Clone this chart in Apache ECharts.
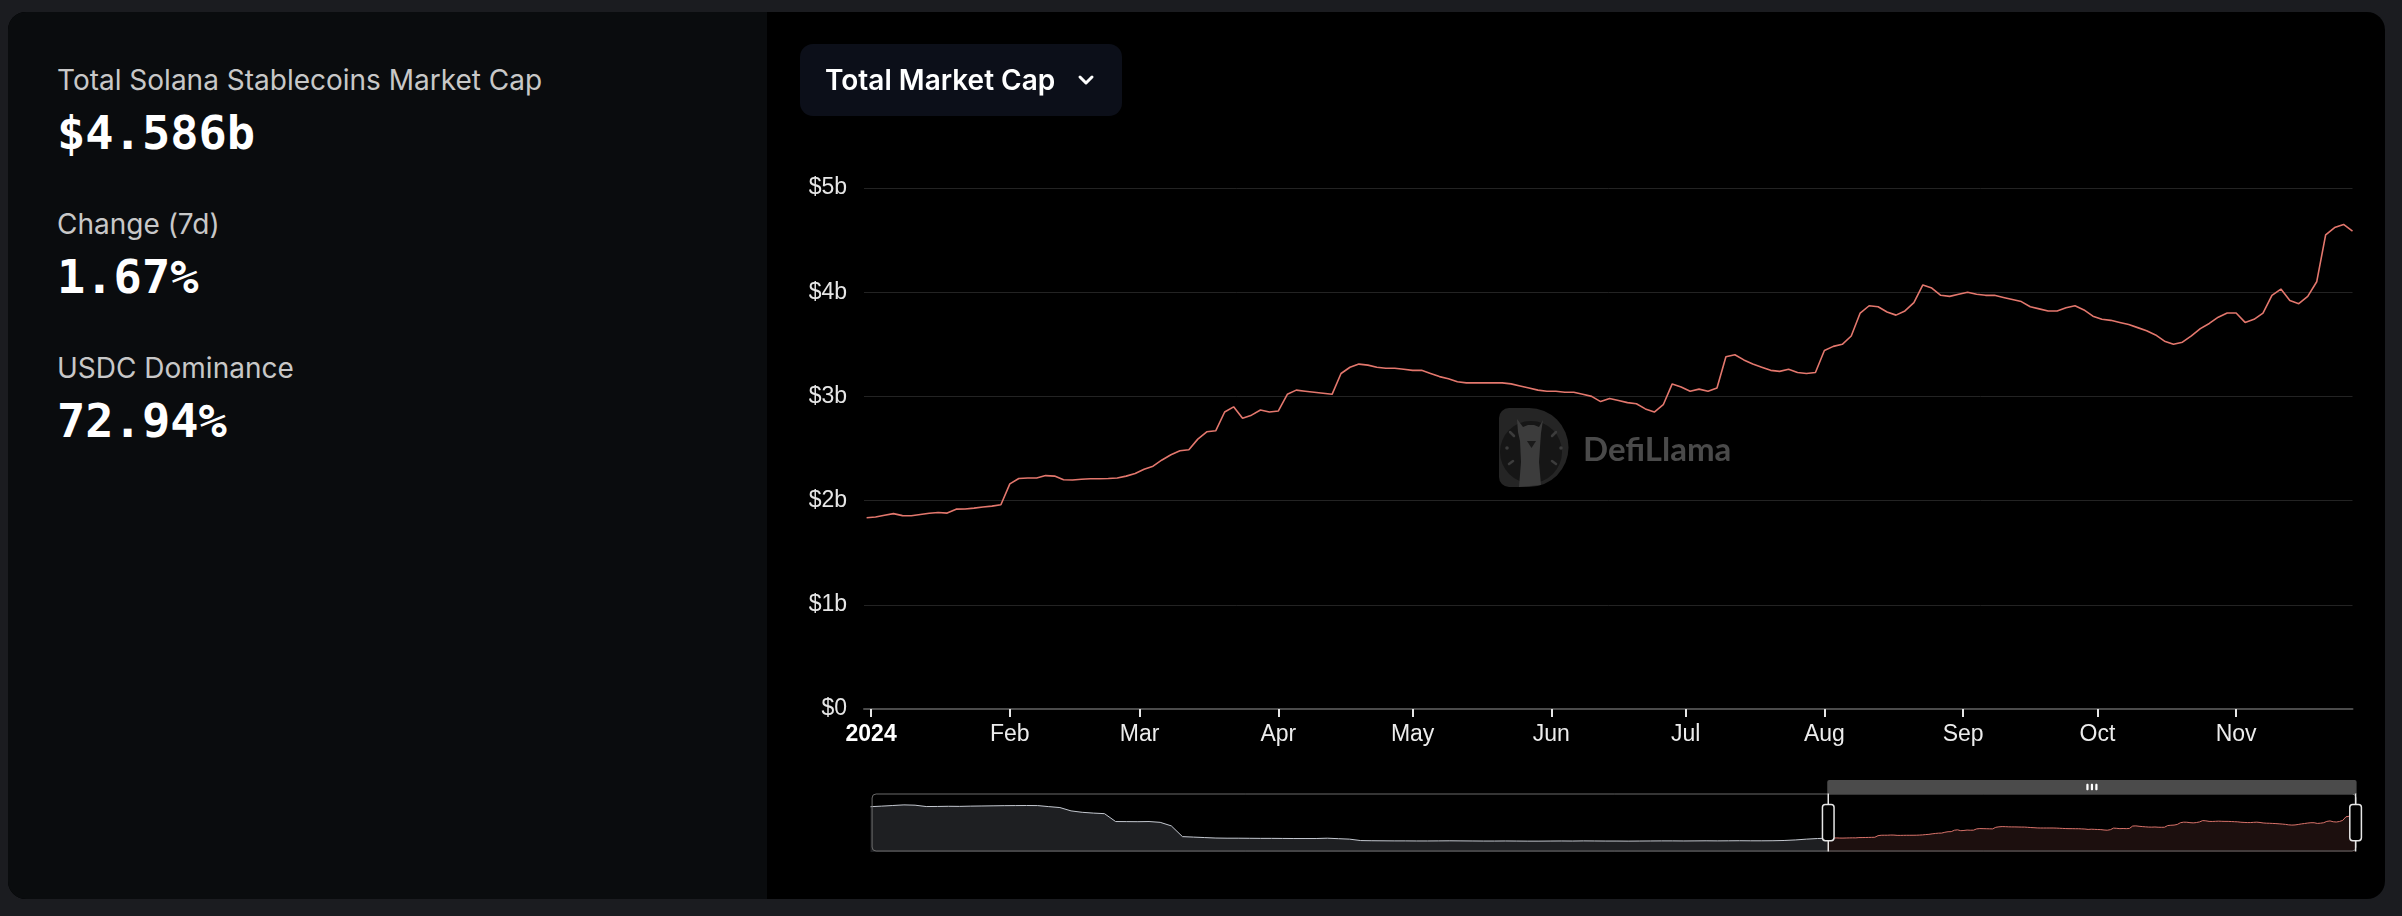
<!DOCTYPE html>
<html>
<head>
<meta charset="utf-8">
<script src="https://cdn.jsdelivr.net/npm/echarts@6/dist/echarts.min.js"></script>
<style>
html,body{margin:0;padding:0;width:2402px;height:916px;background:#1b1c20;overflow:hidden;}
#card{position:absolute;left:8px;top:12px;width:2377px;height:887px;border-radius:18px;background:#000;overflow:hidden;}
#panel{position:absolute;left:0;top:0;width:759px;height:887px;background:#0a0c0e;}
.lbl{position:absolute;left:49px;font-family:Inter,'Noto Sans',sans-serif;font-size:28px;line-height:28px;color:#c8c8c8;white-space:nowrap;}
.num{position:absolute;left:49px;font-family:'DejaVu Sans Mono',monospace;font-weight:bold;font-size:47px;line-height:47px;color:#fff;white-space:nowrap;}
#chart{position:absolute;left:0;top:0;width:2402px;height:916px;}
#btn{position:absolute;left:800px;top:44px;width:322px;height:72px;border-radius:13px;background:#0c0f19;}
#btnText{position:absolute;left:25px;top:0;font-family:Inter,'Noto Sans',sans-serif;font-weight:600;font-size:28px;line-height:72px;color:#fff;white-space:nowrap;}
#chev{position:absolute;left:277px;top:30px;}
</style>
</head>
<body>
<div id="card">
  <div id="panel">
    <div class="lbl" style="top:54px">Total Solana Stablecoins Market Cap</div>
    <div class="num" style="top:97px">$4.586b</div>
    <div class="lbl" style="top:198px">Change (7d)</div>
    <div class="num" style="top:241px">1.67%</div>
    <div class="lbl" style="top:342px">USDC Dominance</div>
    <div class="num" style="top:385px">72.94%</div>
  </div>
</div>
<div id="chart"></div>
<div id="btn"><div id="btnText">Total Market Cap</div>
<svg id="chev" width="18" height="12" viewBox="0 0 18 12"><polyline points="3,3 9,9 15,3" fill="none" stroke="#fff" stroke-width="3" stroke-linecap="round" stroke-linejoin="round"/></svg></div>
<script>
// ---- data (values in billions of USD) ----
const histStart = '2022-05-09';   // weekly history shown in the overview slider
const histStepDays = 7;
const histValues = [
  5.83,5.90,5.98,6.06,6.02,5.85,5.86,5.88,5.87,5.90,
  5.92,5.94,5.96,5.97,5.98,5.97,5.84,5.72,5.30,5.12,
  5.02,4.95,3.95,3.94,3.93,3.95,3.85,3.40,2.04,1.98,
  1.92,1.86,1.84,1.84,1.83,1.82,1.82,1.81,1.80,1.80,
  1.80,1.84,1.78,1.72,1.54,1.52,1.51,1.50,1.50,1.49,
  1.49,1.50,1.51,1.50,1.49,1.48,1.48,1.49,1.48,1.47,
  1.47,1.48,1.49,1.48,1.50,1.49,1.48,1.48,1.47,1.48,
  1.49,1.50,1.50,1.49,1.50,1.51,1.50,1.51,1.52,1.51,
  1.51,1.52,1.55,1.62,1.72,1.80
];
const recentStart = '2023-12-31'; // every 2 days through 2024-11-27
const recentStepDays = 2;
const recentValues = [
  1.836,1.843,1.860,1.875,1.856,1.854,1.866,1.878,1.886,1.880,
  1.918,1.920,1.928,1.938,1.947,1.960,2.160,2.212,2.217,2.217,
  2.240,2.235,2.200,2.198,2.205,2.210,2.210,2.212,2.217,2.235,
  2.260,2.300,2.330,2.390,2.440,2.478,2.488,2.590,2.660,2.670,
  2.850,2.900,2.790,2.820,2.870,2.850,2.860,3.020,3.060,3.050,
  3.040,3.030,3.020,3.220,3.280,3.310,3.300,3.280,3.270,3.270,
  3.260,3.250,3.250,3.220,3.190,3.170,3.140,3.130,3.130,3.130,
  3.130,3.130,3.120,3.100,3.080,3.060,3.050,3.050,3.040,3.040,
  3.020,3.000,2.950,2.980,2.960,2.940,2.930,2.880,2.850,2.920,
  3.120,3.090,3.050,3.070,3.050,3.080,3.380,3.400,3.350,3.310,
  3.280,3.250,3.240,3.260,3.230,3.220,3.230,3.440,3.480,3.500,
  3.580,3.800,3.870,3.860,3.810,3.780,3.820,3.900,4.070,4.040,
  3.970,3.960,3.980,4.000,3.980,3.970,3.970,3.950,3.930,3.910,
  3.860,3.840,3.820,3.820,3.850,3.870,3.830,3.770,3.740,3.730,
  3.710,3.690,3.660,3.630,3.590,3.530,3.500,3.520,3.580,3.650,
  3.700,3.760,3.800,3.800,3.710,3.740,3.800,3.970,4.030,3.920,
  3.890,3.960,4.100,4.550,4.620,4.650,4.586
];
const windowStart = '2023-12-30T10:00:00Z';
const yTickValues = [0, 1, 2, 3, 4, 5];

const DAY = 86400000;
function toSeries(start, step, vals) {
  const t0 = Date.parse(start + 'T00:00:00Z');
  return vals.map((v, i) => [t0 + i * step * DAY, v]);
}
const histData = toSeries(histStart, histStepDays, histValues);
const recentData = toSeries(recentStart, recentStepDays, recentValues);
const allData = histData.concat(recentData);
const endTs = recentData[recentData.length - 1][0];

const LINE = '#e3776d';
const WM = '#3c3c3c';
const chart = echarts.init(document.getElementById('chart'), null, {renderer: 'canvas'});
chart.setOption({
  animation: false,
  useUTC: true,
  backgroundColor: 'transparent',
  textStyle: {fontFamily: "'Liberation Sans', Arial, sans-serif"},
  grid: [
    {left: 864, right: 49.5, top: 188, bottom: 207},
    {left: 870.5, width: 1485, top: 794, height: 58}
  ],
  xAxis: [
    {type: 'time', gridIndex: 0, splitNumber: 11,
     axisLine: {lineStyle: {color: '#4b4b4b', width: 2}},
     axisTick: {show: true, length: 8, lineStyle: {color: '#e6e6e6', width: 2}},
     axisLabel: {color: '#ececec', fontSize: 23, margin: 14, showMinLabel: false, showMaxLabel: false,
       formatter: {year: '{yr|{yyyy}}', month: '{MMM}', day: '{d}'},
       rich: {yr: {fontWeight: 'bold', color: '#fff', fontSize: 23}}},
     splitLine: {show: false}},
    {type: 'time', gridIndex: 1, show: false, min: 'dataMin', max: 'dataMax'}
  ],
  yAxis: [
    {type: 'value', gridIndex: 0, min: yTickValues[0], max: yTickValues[yTickValues.length - 1], interval: 1,
     axisLabel: {color: '#e6e6e6', fontSize: 23, margin: 17, formatter: v => v === 0 ? '$0' : '$' + v + 'b'},
     axisLine: {show: false}, axisTick: {show: false},
     splitLine: {lineStyle: {color: '#232323', width: 1}}},
    {type: 'value', gridIndex: 1, show: false,
     min: e => e.min - 0.3 * (e.max - e.min), max: e => e.max + 0.3 * (e.max - e.min)}
  ],
  dataZoom: [{
    type: 'slider', xAxisIndex: 0, filterMode: 'filter',
    startValue: Date.parse(windowStart), endValue: endTs,
    left: 866, width: 1485, top: 780, height: 58,
    showDataShadow: false, showDetail: false, brushSelect: true,
    backgroundColor: 'rgba(0,0,0,0)', fillerColor: 'rgba(0,0,0,0)',
    borderColor: '#6a6a6a', borderRadius: 4,
    handleSize: '100%',
    handleStyle: {color: '#000', borderColor: '#e6e6e6', borderWidth: 1.5},
    moveHandleSize: 14,
    moveHandleStyle: {color: '#4b4b4b', opacity: 1},
    emphasis: {handleStyle: {color: '#000', borderColor: '#e6e6e6', borderWidth: 1.5},
               moveHandleStyle: {color: '#4b4b4b', opacity: 1}}
  }],
  graphic: {elements: [
    {type: 'rect', silent: true, z: 0, shape: {x: 1499, y: 408, width: 31, height: 79, r: [10, 0, 0, 10]}, style: {fill: '#252525'}},
    {type: 'sector', silent: true, z: 0, shape: {cx: 1529, cy: 447.5, r: 39.5, r0: 0, startAngle: -Math.PI / 2, endAngle: Math.PI / 2, clockwise: true}, style: {fill: '#252525'}},
    {type: 'circle', silent: true, z: 0, shape: {cx: 1531, cy: 452, r: 31}, style: {fill: '#161616'}},
    {type: 'polygon', silent: true, z: 0,
     shape: {points: [[1517,419],[1523,427],[1528,425],[1534,425],[1539,427],[1543,420],[1541,433],[1540,447],[1539,462],[1541,485],[1519,487],[1521,462],[1520,441],[1518,432]]},
     style: {fill: WM}},
    {type: 'polygon', silent: true, z: 0, shape: {points: [[1527,441],[1536,441],[1531.5,448]]}, style: {fill: '#1a1a1a'}},
    {type: 'line', silent: true, z: 0, shape: {x1: 1510, y1: 432, x2: 1514, y2: 436}, style: {stroke: WM, lineWidth: 2.5, lineCap: 'round'}},
    {type: 'line', silent: true, z: 0, shape: {x1: 1509, y1: 464, x2: 1513, y2: 461}, style: {stroke: WM, lineWidth: 2.5, lineCap: 'round'}},
    {type: 'line', silent: true, z: 0, shape: {x1: 1556, y1: 432, x2: 1552, y2: 436}, style: {stroke: WM, lineWidth: 2.5, lineCap: 'round'}},
    {type: 'line', silent: true, z: 0, shape: {x1: 1556, y1: 464, x2: 1552, y2: 461}, style: {stroke: WM, lineWidth: 2.5, lineCap: 'round'}},
    {type: 'circle', silent: true, z: 0, shape: {cx: 1507, cy: 448, r: 1.8}, style: {fill: WM}},
    {type: 'circle', silent: true, z: 0, shape: {cx: 1561, cy: 448, r: 1.8}, style: {fill: WM}},
    {type: 'text', silent: true, z: 0, x: 1583, y: 450,
     style: {text: 'DefiLlama', fill: '#4a4a4a', font: 'bold 33px Lato, "Noto Sans", sans-serif', verticalAlign: 'middle', textVerticalAlign: 'middle'}}
  ]},
  series: [
    {type: 'line', xAxisIndex: 0, yAxisIndex: 0, data: allData, symbol: 'none', showSymbol: false,
     lineStyle: {color: LINE, width: 1.6}, itemStyle: {color: LINE}, z: 3, silent: true},
    {type: 'line', xAxisIndex: 1, yAxisIndex: 1, data: histData.concat([recentData[0]]), symbol: 'none',
     lineStyle: {color: '#c4c8d0', width: 1}, areaStyle: {color: 'rgba(210,219,238,0.2)'}, silent: true},
    {type: 'line', xAxisIndex: 1, yAxisIndex: 1, data: recentData, symbol: 'none',
     lineStyle: {color: '#d8726a', width: 1}, areaStyle: {color: 'rgba(227,119,109,0.18)'}, silent: true}
  ]
});
</script>
</body>
</html>
